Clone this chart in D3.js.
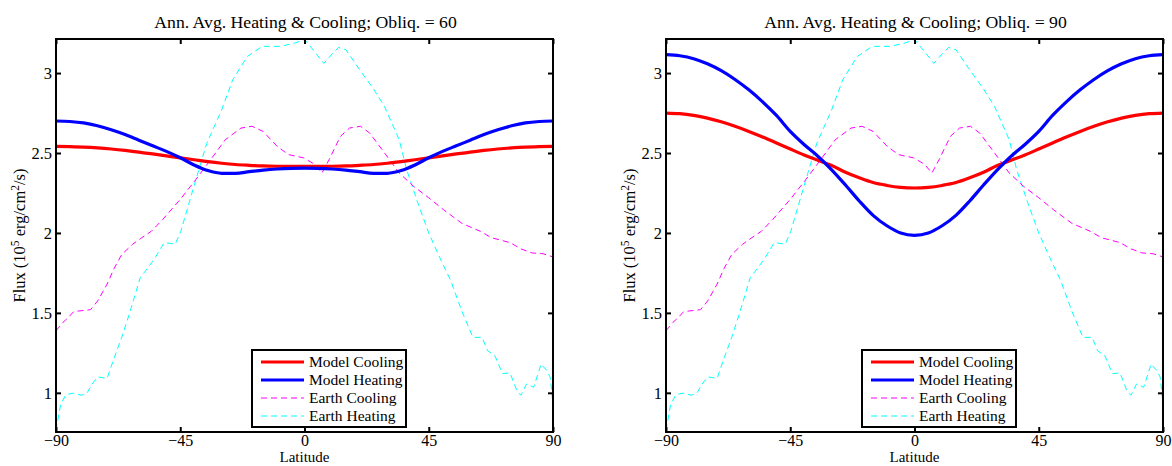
<!DOCTYPE html>
<html><head><meta charset="utf-8">
<script src="https://cdn.jsdelivr.net/npm/d3@7"></script>
<style>
html,body{margin:0;padding:0;background:#fff;}
svg{display:block;font-family:"Liberation Serif","Times New Roman",serif;}
</style></head>
<body><svg id="c" width="1172" height="466"></svg>
<script>
// ---- data ----
const modelLat = [-90,-85,-80,-75,-70,-65,-60,-55,-50,-45,-40,-35,-30,-25,-20,-15,-10,-5,0,5,10,15,20,25,30,35,40,45,50,55,60,65,70,75,80,85,90];
const cool60 = [2.542,2.540,2.537,2.532,2.525,2.516,2.505,2.494,2.482,2.470,2.458,2.446,2.436,2.428,2.423,2.419,2.417,2.416,2.416,2.416,2.417,2.419,2.423,2.428,2.436,2.446,2.458,2.470,2.482,2.494,2.505,2.516,2.525,2.532,2.537,2.540,2.542];
const heat60 = [2.700,2.697,2.688,2.670,2.645,2.615,2.580,2.545,2.510,2.470,2.425,2.390,2.373,2.373,2.383,2.393,2.400,2.404,2.405,2.404,2.400,2.393,2.383,2.373,2.373,2.390,2.425,2.470,2.510,2.545,2.580,2.615,2.645,2.670,2.688,2.697,2.700];
const cool90 = [2.750,2.746,2.735,2.718,2.695,2.667,2.635,2.600,2.563,2.525,2.488,2.455,2.422,2.380,2.345,2.315,2.297,2.285,2.281,2.285,2.297,2.315,2.345,2.380,2.422,2.455,2.488,2.525,2.563,2.600,2.635,2.667,2.695,2.718,2.735,2.746,2.750];
const heat90 = [3.115,3.108,3.090,3.058,3.015,2.960,2.895,2.820,2.735,2.635,2.553,2.480,2.395,2.300,2.200,2.110,2.045,2.000,1.985,2.000,2.045,2.110,2.200,2.300,2.395,2.480,2.553,2.635,2.735,2.820,2.895,2.960,3.015,3.058,3.090,3.108,3.115];

const earthCoolLat = [-90,-87.5,-85.6,-83.6,-79.6,-77.5,-74.9,-71.5,-68.9,-66.2,-62.2,-58.1,-55.5,-51.4,-45,-39.4,-34,-28.7,-23,-19,-15,-9.8,-5.8,-0.4,3.6,6.3,8.9,13,16.3,20.3,23.6,29,34.3,39.6,45,50.3,57,63.7,67.7,74.4,78.4,82.4,86.4,90];
const earthCoolVal = [1.388,1.44,1.47,1.508,1.516,1.52,1.575,1.68,1.78,1.865,1.93,1.98,2.01,2.083,2.21,2.333,2.458,2.583,2.656,2.667,2.635,2.54,2.49,2.47,2.43,2.375,2.458,2.604,2.656,2.667,2.625,2.5,2.375,2.29,2.22,2.146,2.06,2.01,1.97,1.94,1.90,1.875,1.87,1.85];
const earthHeatLat = [-90,-88.3,-86.3,-83.6,-80.9,-78.9,-76.9,-74.9,-71.5,-68.9,-66.2,-63.5,-59.5,-56.8,-54.1,-50.8,-46.8,-44.8,-39.4,-35.4,-30,-26,-20.7,-15.3,-8.6,-3.1,0,3.6,7,10.3,12.3,15,19.6,25,29,34.3,37,41,45,49,53,57,61,64.3,66.3,69,71.7,74.4,77,78.4,80.4,83,85.7,87.7,89,90];
const earthHeatVal = [0.765,0.93,0.99,0.998,0.985,0.995,1.055,1.10,1.09,1.22,1.347,1.49,1.72,1.78,1.845,1.94,1.93,2.01,2.33,2.56,2.77,2.958,3.104,3.167,3.167,3.19,3.21,3.135,3.06,3.125,3.16,3.146,3.03,2.90,2.79,2.583,2.396,2.19,2.0,1.845,1.70,1.51,1.347,1.347,1.264,1.23,1.12,1.125,1.01,0.985,1.055,1.035,1.18,1.14,1.097,0.93];

const xTicks = [-90,-45,0,45,90];
const xTickLabels = ["\u221290","\u221245","0","45","90"];
const yTicks = [1,1.5,2,2.5,3];
const yTickLabels = ["1","1.5","2","2.5","3"];
const titles = ["Ann. Avg. Heating & Cooling; Obliq. = 60","Ann. Avg. Heating & Cooling; Obliq. = 90"];
const legendNames = ["Model Cooling","Model Heating","Earth Cooling","Earth Heating"];
const xDomain = [-90,90];
const yDomain = [0.755,3.213];

// ---- drawing ----
const svg = d3.select("#c");
svg.append("rect").attr("width",1172).attr("height",466).attr("fill","#fff");

const panels = [
  {left:56, right:553, title:titles[0], cool:cool60, heat:heat60},
  {left:666, right:1163, title:titles[1], cool:cool90, heat:heat90}
];
const plotTop = 39, plotBottom = 432;
const colors = {cool:"#ff0000", heat:"#0000ff", ecool:"#ff00ff", eheat:"#00ffff"};

panels.forEach((p,i)=>{
  const x = d3.scaleLinear().domain(xDomain).range([p.left,p.right]);
  const y = d3.scaleLinear().domain(yDomain).range([plotBottom,plotTop]);
  const g = svg.append("g");
  const clipId = "clip"+i;
  g.append("clipPath").attr("id",clipId).append("rect")
    .attr("x",p.left).attr("y",plotTop).attr("width",p.right-p.left).attr("height",plotBottom-plotTop);

  const plot = g.append("g").attr("clip-path",`url(#${clipId})`);
  const lineLin = d3.line().x(d=>x(d[0])).y(d=>y(d[1]));
  const lineSmooth = d3.line().x(d=>x(d[0])).y(d=>y(d[1])).curve(d3.curveMonotoneX);

  const ec = earthCoolLat.map((l,k)=>[l,earthCoolVal[k]]);
  const eh = earthHeatLat.map((l,k)=>[l,earthHeatVal[k]]);
  const mc = modelLat.map((l,k)=>[l,p.cool[k]]);
  const mh = modelLat.map((l,k)=>[l,p.heat[k]]);

  plot.append("path").attr("d",lineLin(eh)).attr("fill","none").attr("stroke",colors.eheat)
    .attr("stroke-width",1).attr("stroke-dasharray","6,4");
  plot.append("path").attr("d",lineLin(ec)).attr("fill","none").attr("stroke",colors.ecool)
    .attr("stroke-width",1).attr("stroke-dasharray","6,4");
  plot.append("path").attr("d",lineSmooth(mc)).attr("fill","none").attr("stroke",colors.cool)
    .attr("stroke-width",3.2);
  plot.append("path").attr("d",lineSmooth(mh)).attr("fill","none").attr("stroke",colors.heat)
    .attr("stroke-width",3.2);

  // axes
  const fmtX = d=>xTickLabels[xTicks.indexOf(d)];
  const fmtY = d=>yTickLabels[yTicks.indexOf(d)];
  const ax = [
    g.append("g").attr("transform",`translate(0,${plotBottom})`).call(d3.axisBottom(x).tickValues(xTicks).tickFormat(fmtX).tickSizeInner(-5).tickSizeOuter(0).tickPadding(3)),
    g.append("g").attr("transform",`translate(0,${plotTop})`).call(d3.axisTop(x).tickValues(xTicks).tickFormat("").tickSizeInner(-5).tickSizeOuter(0)),
    g.append("g").attr("transform",`translate(${p.left},0)`).call(d3.axisLeft(y).tickValues(yTicks).tickFormat(fmtY).tickSizeInner(-5).tickSizeOuter(0).tickPadding(4)),
    g.append("g").attr("transform",`translate(${p.right},0)`).call(d3.axisRight(y).tickValues(yTicks).tickFormat("").tickSizeInner(-5).tickSizeOuter(0))
  ];
  ax.forEach((a,k)=>{
    a.select(".domain").remove();
    a.selectAll(".tick line").attr("stroke","#000").attr("stroke-width",2);
    a.selectAll(".tick text").attr("fill","#000").style("font-size", k===0 ? "16px" : "16.5px").style("font-family","Liberation Serif");
  });

  g.append("rect").attr("x",p.left).attr("y",plotTop).attr("width",p.right-p.left).attr("height",plotBottom-plotTop)
    .attr("fill","none").attr("stroke","#000").attr("stroke-width",2);

  // title
  g.append("text").attr("x",(p.left+p.right)/2+1).attr("y",28).attr("text-anchor","middle")
    .style("font-size","17.7px").attr("fill","#000").text(p.title);
  // x label
  g.append("text").attr("x",(p.left+p.right)/2).attr("y",462).attr("text-anchor","middle")
    .style("font-size","15px").attr("fill","#000").text("Latitude");
  // y label
  const yl = g.append("text").attr("transform",`translate(${p.left-31},${(plotTop+plotBottom)/2}) rotate(-90)`)
    .attr("text-anchor","middle").style("font-size","16.5px").attr("fill","#000");
  yl.append("tspan").text("Flux (10");
  yl.append("tspan").attr("dy",-6).style("font-size","11.5px").text("5");
  yl.append("tspan").attr("dy",6).text(" erg/cm");
  yl.append("tspan").attr("dy",-6).style("font-size","11.5px").text("2");
  yl.append("tspan").attr("dy",6).text("/s)");

  // legend
  const lx = p.left+196, ly = 350, lw = 154, lh = 77;
  const lg = g.append("g");
  lg.append("rect").attr("x",lx).attr("y",ly).attr("width",lw).attr("height",lh)
    .attr("fill","#fff").attr("stroke","#000").attr("stroke-width",2);
  const styles = [
    {c:colors.cool,w:3.2,d:null},{c:colors.heat,w:3.2,d:null},
    {c:colors.ecool,w:1,d:"6,4"},{c:colors.eheat,w:1,d:"6,4"}
  ];
  legendNames.forEach((n,k)=>{
    const ry = ly+12+k*18;
    lg.append("line").attr("x1",lx+9).attr("x2",lx+52).attr("y1",ry).attr("y2",ry)
      .attr("stroke",styles[k].c).attr("stroke-width",styles[k].w).attr("stroke-dasharray",styles[k].d);
    lg.append("text").attr("x",lx+57).attr("y",ry+5).style("font-size","15.5px").attr("fill","#000").text(n);
  });
});
</script></body></html>
